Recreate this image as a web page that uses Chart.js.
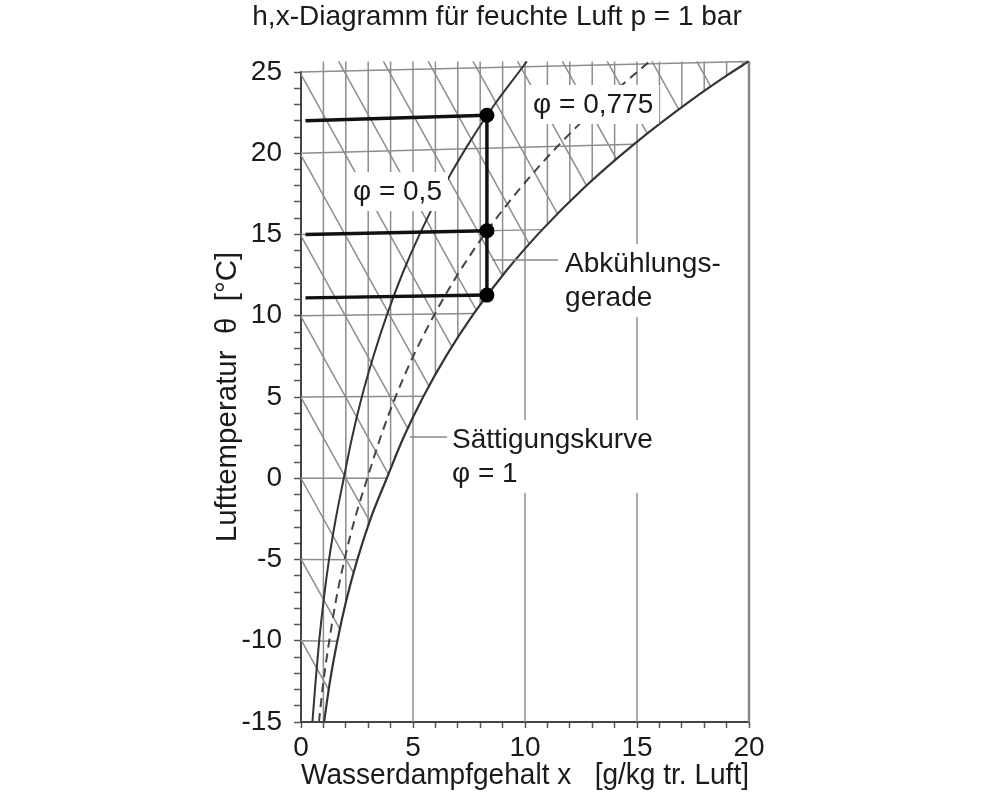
<!DOCTYPE html>
<html lang="de">
<head>
<meta charset="utf-8">
<title>h,x-Diagramm</title>
<script src="https://cdn.jsdelivr.net/npm/chart.js@4.4.1/dist/chart.umd.min.js"></script>
<style>
  html, body { margin: 0; padding: 0; background: #fff; }
  #wrap { width: 981px; height: 802px; }
</style>
</head>
<body>
<div id="wrap"><canvas id="hx" width="981" height="802"></canvas></div>
<script>
// values: x = water content [g/kg], y = skewed temperature axis [°C]

// saturation curve (phi = 1)
const satX = [1.03, 1.29, 1.62, 2.02, 2.51, 3.10, 3.83, 4.58, 5.47, 6.51, 7.72, 9.13, 10.77, 12.66, 14.86, 17.38, 19.08, 19.98];
const satY = [-15.0, -12.53, -10.03, -7.53, -5.02, -2.51, 0.0, 2.52, 5.05, 7.59, 10.14, 12.71, 15.30, 17.91, 20.55, 23.22, 24.85, 25.65];

// phi = 0.5
const phi05X = [0.51, 0.65, 0.81, 1.01, 1.25, 1.55, 1.91, 2.28, 2.72, 3.24, 3.84, 4.53, 5.34, 6.27, 7.34, 8.57, 9.98, 10.08];
const phi05Y = [-15.0, -12.52, -10.02, -7.51, -5.01, -2.51, 0.0, 2.51, 5.03, 7.54, 10.07, 12.60, 15.15, 17.70, 20.27, 22.86, 25.46, 25.65];

// phi = 0.775 (dashed)
const phi0775X = [0.80, 1.00, 1.26, 1.56, 1.94, 2.40, 2.96, 3.55, 4.23, 5.03, 5.97, 7.05, 8.31, 9.77, 11.45, 13.39, 15.56];
const phi0775Y = [-15.0, -12.52, -10.02, -7.52, -5.02, -2.51, 0.0, 2.52, 5.04, 7.57, 10.11, 12.66, 15.23, 17.82, 20.42, 23.06, 25.65];

// isotherms every 5 °C, from the axis to the saturation curve
const isoT = [-10, -5, 0, 5, 10, 15, 20];
const isoEndX = [1.62, 2.51, 3.83, 5.47, 7.72, 10.77, 14.86];
const isoEndY = [-10.03, -5.02, 0.0, 5.05, 10.14, 15.30, 20.55];
// 25 °C line along the top of the net
const topLineX = [0, 20];
const topLineY = [25, 25.65];

// top edge of the net
const NET_TOP = 25.65;
// x = const lines inside the unsaturated region, and their lower ends
const netX = [1, 2, 3, 4, 6, 7, 8, 9, 11, 12, 13, 14, 16, 17, 18, 19];
const netLowY = [-15, -7.66, -2.95, 0.58, 6.35, 8.62, 10.66, 12.47, 15.62, 16.99, 18.31, 19.51, 21.76, 22.82, 23.80, 24.73];
// x = const lines running the full height
const mainX = [5, 10, 15];
const BORDER_X = 20;

// isenthalps h = -10 ... 75 kJ/kg, every 5
const enthStartX = [0, 0, 0, 0, 0, 0, 0, 0, 1.68, 3.68, 5.68, 7.68, 9.67, 11.67, 13.67, 15.67, 17.67, 19.67];
const enthStartY = [-9.94, -4.97, 0, 4.97, 9.94, 14.91, 19.88, 24.85, 25.65, 25.65, 25.65, 25.65, 25.65, 25.65, 25.65, 25.65, 25.65, 25.65];
const enthEndX = [1.24, 1.74, 2.35, 3.07, 3.90, 4.77, 5.72, 6.74, 7.83, 8.98, 10.17, 11.45, 12.74, 14.08, 15.46, 16.86, 18.30, 19.75];
const enthEndY = [-13.03, -9.29, -5.84, -2.66, 0.25, 3.06, 5.66, 8.09, 10.35, 12.48, 14.47, 16.27, 18.02, 19.66, 21.21, 22.70, 24.09, 25.45];

// cooling process (Abkühlungsgerade)
const coolX = 8.3;
const coolStartX = 0.2;
const coolT = [22, 15, 11.1];
const coolY = [22.34, 15.23, 11.27];

const TITLE = 'h,x-Diagramm für feuchte Luft p = 1 bar';
const notes = [
  { lines: ['φ = 0,775'], x: 10.36, y: 22.48 },
  { lines: ['φ = 0,5'], x: 2.32, y: 17.12 },
  { lines: ['Abkühlungs-', 'gerade'], x: 11.79, y: 12.69 },
  { lines: ['Sättigungskurve', 'φ = 1'], x: 6.74, y: 1.86 }
];
const leaders = [
  { x1: 8.53, x2: 11.47, y: 13.43 },
  { x1: 4.87, x2: 6.52, y: 2.54 }
];

const FONT = '"Liberation Sans", Arial, Helvetica, sans-serif';
Chart.defaults.font.family = FONT;
Chart.defaults.color = '#1a1a1a';

const zip = (xs, ys) => xs.map((v, i) => ({ x: v, y: ys[i] }));
// several straight pieces in one dataset, split by gaps
function pieces(list) {
  const pts = [];
  list.forEach(p => { pts.push(p[0], p[1], { x: p[1].x, y: null }); });
  return pts;
}

const gray = '#8d8d8d';
const lineDefaults = { showLine: true, pointRadius: 0, pointHoverRadius: 0, clip: false, spanGaps: false };

const hxNotes = {
  id: 'hxNotes',
  afterDatasetsDraw(chart) {
    const { ctx, scales: { x, y }, chartArea } = chart;
    ctx.save();
    ctx.font = '28px ' + FONT;
    ctx.textAlign = 'left';
    ctx.textBaseline = 'alphabetic';
    notes.forEach(n => {
      const px = x.getPixelForValue(n.x), py = y.getPixelForValue(n.y);
      const w = Math.max(...n.lines.map(t => ctx.measureText(t).width));
      ctx.fillStyle = '#fff';
      ctx.fillRect(px - 6, py - 28, w + 12, 34 * (n.lines.length - 1) + 39);
      ctx.fillStyle = '#1a1a1a';
      n.lines.forEach((t, i) => ctx.fillText(t, px, py + i * 34));
    });
    ctx.strokeStyle = '#888';
    ctx.lineWidth = 1.5;
    leaders.forEach(l => {
      const py = y.getPixelForValue(l.y);
      ctx.beginPath();
      ctx.moveTo(x.getPixelForValue(l.x1), py);
      ctx.lineTo(x.getPixelForValue(l.x2), py);
      ctx.stroke();
    });
    ctx.textAlign = 'center';
    ctx.fillText(TITLE, (chartArea.left + chartArea.right) / 2 - 28, 25);
    ctx.restore();
  }
};

new Chart(document.getElementById('hx'), {
  type: 'scatter',
  data: {
    datasets: [
      { ...lineDefaults, label: 'Zustände', showLine: false, data: coolY.map(v => ({ x: coolX, y: v })),
        pointRadius: 7.5, pointBackgroundColor: '#000', pointBorderWidth: 0, order: 0 },
      { ...lineDefaults, label: 'Abkühlungsgerade', data: [{ x: coolX, y: coolY[0] }, { x: coolX, y: coolY[2] }],
        borderColor: '#111', borderWidth: 3.5, order: 1 },
      { ...lineDefaults, label: 'Isothermen Prozess',
        data: pieces(coolT.map((t, i) => [{ x: coolStartX, y: t }, { x: coolX, y: coolY[i] }])),
        borderColor: '#111', borderWidth: 3.5, order: 2 },
      { ...lineDefaults, label: 'φ = 1', data: zip(satX, satY), borderColor: '#333', borderWidth: 2.2,
        cubicInterpolationMode: 'monotone', order: 3 },
      { ...lineDefaults, label: 'φ = 0,775', data: zip(phi0775X, phi0775Y), borderColor: '#444', borderWidth: 2,
        borderDash: [9, 6], cubicInterpolationMode: 'monotone', order: 4 },
      { ...lineDefaults, label: 'φ = 0,5', data: zip(phi05X, phi05Y), borderColor: '#333', borderWidth: 2,
        cubicInterpolationMode: 'monotone', order: 5 },
      { ...lineDefaults, label: 'Rand', data: [{ x: BORDER_X, y: -15 }, { x: BORDER_X, y: NET_TOP }],
        borderColor: '#888', borderWidth: 2.5, order: 6 },
      { ...lineDefaults, label: 'x = const',
        data: pieces(mainX.map(v => [{ x: v, y: -15 }, { x: v, y: NET_TOP }])
          .concat(netX.map((v, i) => [{ x: v, y: netLowY[i] }, { x: v, y: NET_TOP }]))),
        borderColor: gray, borderWidth: 1.5, order: 7 },
      { ...lineDefaults, label: 'Isothermen',
        data: pieces(isoT.map((t, i) => [{ x: 0, y: t }, { x: isoEndX[i], y: isoEndY[i] }])
          .concat([zip(topLineX, topLineY)])),
        borderColor: gray, borderWidth: 1.5, order: 8 },
      { ...lineDefaults, label: 'Isenthalpen',
        data: pieces(enthStartX.map((v, i) => [{ x: v, y: enthStartY[i] }, { x: enthEndX[i], y: enthEndY[i] }])),
        borderColor: gray, borderWidth: 1.5, order: 9 }
    ]
  },
  options: {
    responsive: false,
    animation: false,
    events: [],
    layout: { padding: { left: 190, right: 232, top: 72, bottom: 0 } },
    plugins: { legend: { display: false }, tooltip: { enabled: false }, title: { display: false } },
    scales: {
      x: {
        type: 'linear', min: 0, max: 20,
        afterFit(s) { s.height = 80; },
        ticks: { stepSize: 1, autoSkip: false, maxRotation: 0, padding: 3, font: { size: 28 }, color: '#1a1a1a',
          callback: v => (v % 5 === 0 ? String(v) : '') },
        grid: { drawOnChartArea: false, tickLength: 6, tickWidth: 1.5, color: '#555' },
        border: { color: '#444', width: 2 },
        title: { display: true, text: 'Wasserdampfgehalt x   [g/kg tr. Luft]', font: { size: 29.5 },
          color: '#1a1a1a', padding: { top: 0, bottom: 8 } }
      },
      y: {
        type: 'linear', min: -15, max: 25,
        afterFit(s) { s.width = 111; },
        ticks: { stepSize: 1, autoSkip: false, padding: 12, font: { size: 28 }, color: '#1a1a1a',
          callback: v => (v % 5 === 0 ? String(v) : '') },
        grid: { drawOnChartArea: false, tickLength: 7, tickWidth: 1.5, color: '#555' },
        border: { color: '#444', width: 2 },
        title: { display: true, text: 'Lufttemperatur  θ  [°C]', font: { size: 29.5 },
          color: '#1a1a1a', padding: { top: 20, bottom: 0 } }
      }
    }
  },
  plugins: [hxNotes]
});
</script>
</body>
</html>
